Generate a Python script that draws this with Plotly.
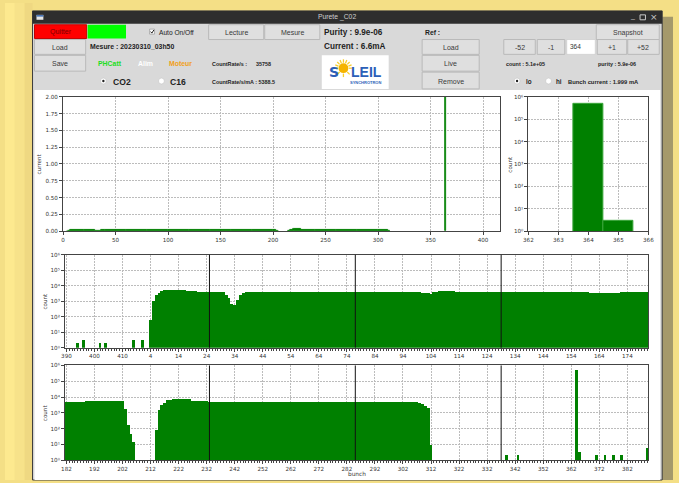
import plotly.graph_objects as go

W, H = 679, 483
N_BUNCH = 416

# Per-bunch counts, as runs of (first bunch, last bunch, count)
count_runs = [
    (1, 1, 3), (4, 4, 60), (5, 5, 1000), (6, 6, 2500), (7, 7, 3500), (8, 8, 4600),
    (9, 10, 5200), (11, 16, 5700), (17, 20, 5000), (21, 30, 4000),
    (31, 31, 2800), (32, 32, 1700), (33, 33, 650), (34, 34, 600), (35, 35, 1300),
    (36, 36, 2700), (37, 37, 3500), (38, 60, 4100), (61, 80, 3900), (81, 100, 4000),
    (101, 103, 3600), (104, 104, 3200), (105, 106, 3800), (107, 112, 5000),
    (113, 120, 4200), (121, 160, 4000), (161, 171, 3700), (172, 181, 3900),
    (182, 188, 4600), (189, 202, 5600), (203, 203, 1600), (204, 204, 170),
    (205, 205, 44), (206, 206, 13), (214, 214, 80), (215, 215, 1500),
    (216, 216, 3000), (217, 217, 4200), (218, 219, 5700), (220, 226, 7500),
    (227, 232, 5300), (233, 300, 4400), (301, 307, 4600), (308, 308, 3800),
    (309, 309, 3300), (310, 310, 2500), (311, 311, 2000), (312, 312, 9),
    (339, 339, 2), (343, 343, 2), (364, 364, 510000), (365, 365, 3),
    (371, 371, 2), (374, 374, 2), (377, 377, 2), (380, 380, 2), (389, 389, 6),
    (394, 394, 2), (396, 396, 3), (402, 402, 2), (404, 404, 2), (414, 414, 3),
]

selected_bunch = 364
selected_current_mA = 1.999
marker_bunches = [25, 77, 129, 181, 233, 285, 337, 389]

# the ring is displayed in two halves
upper_start, upper_stop = 390, 598      # 390..415 then 0..181 (unwrapped)
lower_start, lower_stop = 182, 390
upper_ticks = [390, 400, 410, 420, 430, 440, 450, 460, 470, 480, 490, 500, 510,
               520, 530, 540, 550, 560, 570, 580, 590]
lower_ticks = [182, 192, 202, 212, 222, 232, 242, 252, 262, 272, 282, 292, 302,
               312, 322, 332, 342, 352, 362, 372, 382]
decades = [1, 10, 100, 1000, 10000, 100000, 1000000]
decade_labels = ["10⁰", "10¹", "10²", "10³", "10⁴", "10⁵", "10⁶"]

counts = [0] * N_BUNCH
for first, last, c in count_runs:
    for b in range(first, last + 1):
        counts[b] = c
mA_per_count = selected_current_mA / counts[selected_bunch]
bunch_current = [c * mA_per_count if c > 0 else None for c in counts]
# thin outline so the low per-bunch currents stay visible as a line
current_outline = [0.8 if c > 100 else 0 for c in counts]

GREEN = "#008000"
GUI_FONT = "Liberation Sans"
PLOT_FONT = "DejaVu Sans"

fig = go.Figure()

# bunch current over the whole ring
fig.add_trace(go.Bar(x=list(range(N_BUNCH)), y=bunch_current, width=1,
                     marker=dict(color=GREEN, line=dict(width=current_outline, color=GREEN)),
                     xaxis="x", yaxis="y"))

# zoom around the selected bunch
zx = [b for b in range(362, 367)]
fig.add_trace(go.Bar(x=zx, y=[counts[b] if counts[b] > 0 else None for b in zx], width=1,
                     marker=dict(color=GREEN, line=dict(width=1, color="#3aa63a")),
                     xaxis="x2", yaxis="y2"))

# first half of the ring (wrapped through bunch 0)
ux, uy = [], []
for u in range(upper_start, upper_stop):
    b = u % N_BUNCH
    if counts[b] > 0:
        ux.append(u)
        uy.append(counts[b])
fig.add_trace(go.Bar(x=ux, y=uy, width=1, marker=dict(color=GREEN, line=dict(width=0)),
                     xaxis="x3", yaxis="y3"))

lx, ly = [], []
for b in range(lower_start, lower_stop):
    if counts[b] > 0:
        lx.append(b)
        ly.append(counts[b])
fig.add_trace(go.Bar(x=lx, y=ly, width=1, marker=dict(color=GREEN, line=dict(width=0)),
                     xaxis="x4", yaxis="y4"))


def px_x(x):
    return x / W


def px_y(y):
    return 1 - y / H


def dom_x(a, b):
    return [a / W, b / W]


def dom_y(top, bottom):
    return [1 - bottom / H, 1 - top / H]


axis_style = dict(
    showline=True, linecolor="#444", linewidth=1, mirror=True,
    ticks="outside", ticklen=3, tickcolor="#444", tickwidth=1,
    tickfont=dict(size=5.6, color="#333", family=PLOT_FONT),
    showgrid=True, gridcolor="#bcbcbc", gridwidth=0.8, griddash="2px,1px",
    zeroline=False, fixedrange=True,
)
minor_ticks = dict(tickmode="linear", tick0=0, dtick=1, ticks="outside",
                   ticklen=2, tickcolor="#444", tickwidth=0.8, showgrid=False)

fig.update_layout(
    xaxis=dict(axis_style, domain=dom_x(59, 503), range=[0, 416], anchor="y",
               tickmode="array", tickvals=[0, 50, 100, 150, 200, 250, 300, 350, 400]),
    yaxis=dict(axis_style, domain=dom_y(95, 231), range=[0, 2], anchor="x",
               tickmode="array", tickvals=[0, 0.25, 0.5, 0.75, 1, 1.25, 1.5, 1.75, 2],
               tickformat=".2f"),
    xaxis2=dict(axis_style, domain=dom_x(532, 654), range=[362, 366], anchor="y2",
                tickmode="array", tickvals=[362, 363, 364, 365, 366]),
    yaxis2=dict(axis_style, domain=dom_y(95, 231), type="log", range=[0, 6], anchor="x2",
                tickmode="array", tickvals=decades, ticktext=decade_labels),
    xaxis3=dict(axis_style, domain=dom_x(61, 654),
                range=[upper_start - 0.5, upper_stop - 0.5], anchor="y3",
                tickmode="array", tickvals=upper_ticks,
                ticktext=[str(t % N_BUNCH) for t in upper_ticks], minor=minor_ticks),
    yaxis3=dict(axis_style, domain=dom_y(255, 349), type="log", range=[0, 6], anchor="x3",
                tickmode="array", tickvals=decades, ticktext=decade_labels),
    xaxis4=dict(axis_style, domain=dom_x(61, 654),
                range=[lower_start - 0.5, lower_stop - 0.5], anchor="y4",
                tickmode="array", tickvals=lower_ticks,
                ticktext=[str(t) for t in lower_ticks], minor=minor_ticks),
    yaxis4=dict(axis_style, domain=dom_y(367, 463), type="log", range=[0, 6], anchor="x4",
                tickmode="array", tickvals=decades, ticktext=decade_labels),
)

shapes = []
annotations = []


def box(x0, y0, x1, y1, fill, line_color=None, line_width=0, layer="below"):
    shapes.append(dict(type="rect", xref="paper", yref="paper",
                       x0=px_x(x0), x1=px_x(x1), y0=px_y(y1), y1=px_y(y0),
                       fillcolor=fill, line=dict(color=line_color or fill, width=line_width),
                       layer=layer))


def seg(x0, y0, x1, y1, color, width=1, layer="below"):
    shapes.append(dict(type="line", xref="paper", yref="paper",
                       x0=px_x(x0), x1=px_x(x1), y0=px_y(y0), y1=px_y(y1),
                       line=dict(color=color, width=width), layer=layer))


def disc(cx, cy, r, fill, line_color=None, line_width=0):
    shapes.append(dict(type="circle", xref="paper", yref="paper",
                       x0=px_x(cx - r), x1=px_x(cx + r), y0=px_y(cy + r), y1=px_y(cy - r),
                       fillcolor=fill, line=dict(color=line_color or fill, width=line_width),
                       layer="below"))


def label(s, x, y, size, color="#1e1e1e", bold=False, xanchor="left",
          family=GUI_FONT, angle=0):
    annotations.append(dict(text="<b>%s</b>" % s if bold else s,
                            x=px_x(x), y=px_y(y), xref="paper", yref="paper",
                            xanchor=xanchor, yanchor="middle", showarrow=False,
                            textangle=angle,
                            font=dict(size=size, color=color, family=family)))


def button(s, x0, y0, x1, y1):
    box(x0, y0, x1, y1, "#dfdfdf", "#b9b9b9", 1)
    label(s, (x0 + x1) / 2, (y0 + y1) / 2 + 0.5, 7, "#3a3a3a", xanchor="center")


# desktop and window frame
box(0, 0, 10, 483, "#fde98f")
box(10, 0, 20, 483, "#f7e28a")
box(20, 0, 28, 483, "#efd882")
box(667, 14, 679, 483, "#a5996b")
box(28, 8, 668, 483, "#d9d9d9", "#3a3a3a", 1)
box(28, 8, 668, 21, "#2e2e2e")
box(32, 12, 39, 17, "#e6e6e6")
seg(32, 13, 39, 13, "#3b6bb5", 1.5)
label("Purete _C02", 337, 14.5, 6.8, "#cfcfcf", xanchor="center")
label("_", 638, 13.5, 7, "#c8c8c8", xanchor="center")
box(645.5, 12, 651, 17, "#2e2e2e", "#c8c8c8", 1)
label("×", 660, 14.5, 9, "#c8c8c8", xanchor="center", family="DejaVu Sans")

# plotting canvas
box(30, 88, 666, 483, "#ffffff")

# control panel
box(30, 22, 83, 36, "#ff0000", "#c00000", 1)
label("Quitter", 56.5, 29.5, 7, "#7a0000", xanchor="center")
box(84, 22, 123, 36, "#00ff00")

box(147, 26.5, 152, 31.5, "#ffffff", "#888888", 0.6)
shapes.append(dict(type="path", xref="paper", yref="paper",
                   path="M %f,%f L %f,%f L %f,%f" % (px_x(148), px_y(29), px_x(149.3), px_y(30.5),
                                                   px_x(151.3), px_y(27.3)),
                   line=dict(color="#222222", width=1), layer="below"))
label("Auto On/Off", 154, 29.5, 6.6, "#222222")

for spec in [("Lecture", 207, 22, 263, 37), ("Mesure", 264, 22, 320, 37),
             ("Load", 30, 37, 82, 52), ("Save", 30, 53, 82, 69),
             ("Load", 424, 37, 482, 52), ("Live", 424, 53, 482, 69),
             ("Remove", 424, 70, 482, 87), ("Snapshot", 601, 22, 665, 37),
             ("-52", 507, 37, 539, 52), ("-1", 541, 37, 569, 52),
             ("+1", 602, 37, 632, 52), ("+52", 633, 37, 665, 52)]:
    button(*spec)

box(571, 37, 600, 52, "#ffffff", "#c8c8c8", 0.6)
label(str(selected_bunch), 572.5, 44.5, 6.5, "#333333")

label("Purity : 9.9e-06", 322, 29.5, 8.2, "#1e1e1e", bold=True)
label("Current : 6.6mA", 322, 44.5, 8.2, "#1e1e1e", bold=True)
label("Mesure : 20230310_03h50", 84, 44.5, 6.9, "#1e1e1e", bold=True)
label("Ref :", 425, 29.5, 6.8, "#1e1e1e", bold=True)

label("PHCatt", 92, 61.5, 6.9, "#22dd22", bold=True)
label("Alim", 133, 61.5, 6.9, "#ffffff", bold=True)
label("Moteur", 165, 61.5, 6.9, "#f0a020", bold=True)
label("CountRate/s :", 208, 61.5, 5.4, "#1e1e1e", bold=True)
label("35758", 253, 61.5, 5.4, "#1e1e1e", bold=True)
label("CountRate/s/mA : 5388.5", 208, 79.5, 5.4, "#1e1e1e", bold=True)

disc(100, 79, 3, "#ffffff", "#bbbbbb", 0.5)
disc(100, 79, 1.2, "#222222")
label("CO2", 108, 79.5, 8.6, "#1e1e1e", bold=True)
disc(159, 79, 3, "#ffffff", "#bbbbbb", 0.5)
label("C16", 166, 79.5, 8.6, "#1e1e1e", bold=True)

label("count : %.1e" % counts[selected_bunch], 507, 61.5, 5.4, "#1e1e1e", bold=True)
label("purity : 5.9e-06", 601, 61.5, 5.4, "#1e1e1e", bold=True)
disc(520.5, 79, 3, "#ffffff", "#bbbbbb", 0.5)
disc(520.5, 79, 1.2, "#222222")
label("lo", 527.5, 79.5, 6.3, "#1e1e1e", bold=True)
disc(552.5, 79, 3, "#ffffff", "#bbbbbb", 0.5)
label("hi", 558, 79.5, 6.3, "#1e1e1e", bold=True)
label("Bunch current : %.3f mA" % selected_current_mA, 570, 79.5, 5.8, "#1e1e1e", bold=True)

# SOLEIL logo
box(322, 53, 390, 87, "#ffffff")
for (dx, dy) in [(0, -1), (0.7, -0.7), (1, 0), (0.7, 0.7), (0, 1), (-0.7, 0.7), (-1, 0),
                 (-0.7, -0.7), (0.38, -0.92), (0.92, -0.38), (-0.38, -0.92), (-0.92, -0.38)]:
    seg(344 + 5.5 * dx, 66 + 5.5 * dy, 344 + 9 * dx, 66 + 9 * dy, "#f8cf2e", 1.3)
disc(344, 66, 5, "#f5b400")
label("S", 334.5, 70, 14, "#2b5fb8", bold=True, xanchor="center", family="DejaVu Sans")
label("LEIL", 349.5, 70, 14, "#2b5fb8", bold=True, family=GUI_FONT)
label("SYNCHROTRON", 366, 80, 4, "#2b5fb8", bold=True, xanchor="center")

# axis labels
label("current", 35, 163, 5.6, "#333333", xanchor="center", family=PLOT_FONT, angle=-90)
label("count", 513, 163, 5.6, "#333333", xanchor="center", family=PLOT_FONT, angle=-90)
label("count", 41, 302, 5.6, "#333333", xanchor="center", family=PLOT_FONT, angle=-90)
label("count", 41, 415, 5.6, "#333333", xanchor="center", family=PLOT_FONT, angle=-90)
label("bunch", 358, 477, 5.8, "#333333", xanchor="center", family=PLOT_FONT)

# bunch markers along the ring
for m in marker_bunches:
    u = m if m >= upper_start else m + N_BUNCH
    if upper_start < u < upper_stop - 1:
        shapes.append(dict(type="line", xref="x3", yref="y3 domain", x0=u, x1=u, y0=0, y1=1,
                           line=dict(color="#111111", width=1), layer="above"))
    if lower_start < m < lower_stop - 1:
        shapes.append(dict(type="line", xref="x4", yref="y4 domain", x0=m, x1=m, y0=0, y1=1,
                           line=dict(color="#111111", width=1), layer="above"))

fig.update_layout(
    width=W, height=H, margin=dict(l=0, r=0, t=0, b=0),
    paper_bgcolor="#f4df86", plot_bgcolor="#ffffff",
    showlegend=False, bargap=0, font=dict(family=GUI_FONT),
    shapes=shapes, annotations=annotations,
)

fig.write_html("out.html", config={"displayModeBar": False})
